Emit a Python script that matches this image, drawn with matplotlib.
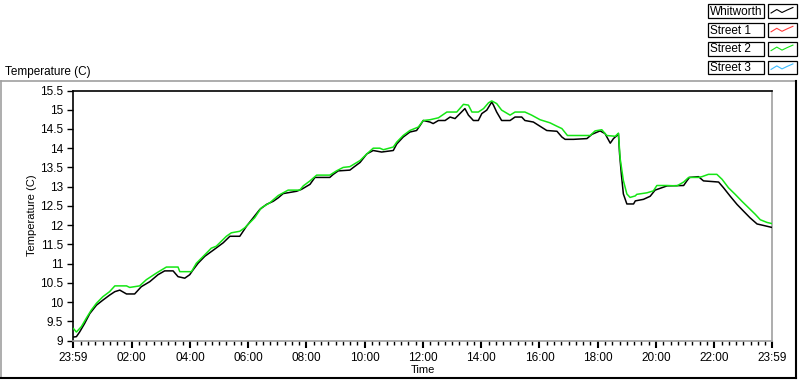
import matplotlib
matplotlib.use("Agg")
import matplotlib.pyplot as plt
from matplotlib.lines import Line2D
from matplotlib.patches import Rectangle
from matplotlib.ticker import FixedLocator, FuncFormatter

plt.rcParams['font.family'] = ['Liberation Sans', 'DejaVu Sans']
plt.rcParams['font.size'] = 8

# ---- data (hours since midnight, temperature in C) ----
whitworth_h = [0.00, 0.10, 0.21, 0.38, 0.56, 0.79, 1.01, 1.24, 1.42, 1.59, 1.82, 2.10, 2.33, 2.62, 2.90,
               3.13, 3.42, 3.59, 3.82, 3.99, 4.11, 4.28, 4.51, 4.82, 5.14, 5.37, 5.71, 5.94, 6.17, 6.40,
               6.63, 6.86, 7.03, 7.20, 7.66, 7.83, 8.12, 8.29, 8.80, 8.92, 9.09, 9.49, 9.61, 9.84, 10.07,
               10.29, 10.58, 10.98, 11.10, 11.32, 11.55, 11.78, 11.90, 12.01, 12.24, 12.35, 12.53, 12.76,
               12.93, 13.10, 13.27, 13.44, 13.56, 13.73, 13.90, 14.02, 14.19, 14.36, 14.42, 14.53, 14.70,
               14.99, 15.16, 15.39, 15.50, 15.79, 16.02, 16.25, 16.60, 16.77, 16.88, 17.17, 17.63, 17.80,
               18.08, 18.25, 18.43, 18.54, 18.66, 18.71, 18.75, 18.81, 18.88, 19.00, 19.23, 19.29, 19.57,
               19.80, 19.97, 20.38, 20.95, 21.06, 21.15, 21.46, 21.63, 22.15, 22.32, 22.55, 22.78, 23.01,
               23.23, 23.47, 23.70, 23.98]
whitworth_t = [9.09, 9.10, 9.22, 9.44, 9.70, 9.92, 10.05, 10.18, 10.27, 10.31, 10.21, 10.21, 10.40, 10.53, 10.71,
               10.81, 10.81, 10.66, 10.62, 10.71, 10.84, 11.01, 11.19, 11.36, 11.54, 11.71, 11.71, 11.97, 12.19, 12.41,
               12.54, 12.62, 12.71, 12.82, 12.88, 12.93, 13.06, 13.24, 13.24, 13.32, 13.41, 13.43, 13.50, 13.63, 13.85,
               13.94, 13.90, 13.94, 14.11, 14.29, 14.42, 14.46, 14.59, 14.72, 14.68, 14.64, 14.72, 14.72,
               14.81, 14.77, 14.90, 15.03, 14.86, 14.72, 14.72, 14.90, 14.99, 15.20, 15.12, 14.94, 14.72,
               14.72, 14.81, 14.81, 14.72, 14.68, 14.57, 14.46, 14.44, 14.29, 14.23, 14.23, 14.25, 14.36,
               14.45, 14.38, 14.13, 14.25, 14.33, 14.38, 13.85, 13.33, 12.81, 12.55, 12.55, 12.63, 12.67,
               12.75, 12.91, 13.02, 13.03, 13.15, 13.24, 13.26, 13.15, 13.12, 12.97, 12.75, 12.54, 12.36,
               12.19, 12.03, 11.99, 11.94]

street2_h = [0.00, 0.10, 0.27, 0.44, 0.61, 0.79, 1.01, 1.24, 1.42, 1.82, 1.93, 2.27, 2.50, 2.84, 3.19,
             3.59, 3.65, 4.05, 4.22, 4.51, 4.73, 4.90, 5.25, 5.42, 5.71, 5.88, 6.22, 6.45, 6.74, 7.03,
             7.37, 7.77, 7.89, 8.12, 8.35, 8.80, 9.03, 9.26, 9.49, 9.84, 10.07, 10.29, 10.52, 10.64,
             10.98, 11.10, 11.32, 11.55, 11.84, 12.01, 12.24, 12.53, 12.82, 13.16, 13.39, 13.56, 13.68,
             13.90, 14.08, 14.25, 14.36, 14.53, 14.70, 14.99, 15.16, 15.50, 15.73, 16.02, 16.36, 16.60,
             16.77, 16.96, 17.74, 17.91, 18.14, 18.31, 18.60, 18.71, 18.77, 18.88, 19.00, 19.11, 19.29,
             19.34, 19.69, 19.91, 20.03, 20.37, 20.72, 20.95, 21.12, 21.46, 21.58, 21.80, 22.09, 22.27,
             22.49, 22.72, 22.95, 23.18, 23.41, 23.58, 23.81, 23.98]
street2_t = [9.31, 9.22, 9.36, 9.58, 9.79, 9.97, 10.14, 10.27, 10.42, 10.42, 10.38, 10.42, 10.58, 10.75, 10.91,
             10.91, 10.79, 10.79, 11.01, 11.23, 11.40, 11.45, 11.71, 11.80, 11.84, 11.93, 12.19, 12.45, 12.58, 12.77,
             12.91, 12.91, 13.02, 13.15, 13.30, 13.30, 13.41, 13.50, 13.52, 13.68, 13.85, 14.00, 14.00, 13.96,
             14.03, 14.16, 14.33, 14.46, 14.55, 14.72, 14.74, 14.79, 14.94, 14.94, 15.14, 15.12, 14.94,
             14.94, 15.03, 15.18, 15.23, 15.16, 14.99, 14.86, 14.94, 14.94, 14.86, 14.74, 14.66, 14.57,
             14.51, 14.33, 14.33, 14.45, 14.48, 14.33, 14.31, 14.39, 13.73, 13.16, 12.81, 12.72, 12.76,
             12.80, 12.84, 12.89, 13.03, 13.03, 13.02, 13.12, 13.24, 13.24, 13.26, 13.32, 13.32, 13.19,
             12.97, 12.80, 12.62, 12.45, 12.28, 12.14, 12.07, 12.04]

series_names = ["Whitworth", "Street 1", "Street 2", "Street 3"]
series_colors = ["#000000", "#ff3c3c", "#14e614", "#3cbcff"]

y_ticks = [9, 9.5, 10, 10.5, 11, 11.5, 12, 12.5, 13, 13.5, 14, 14.5, 15, 15.5]
x_tick_pos = [-1 / 60, 2, 4, 6, 8, 10, 12, 14, 16, 18, 20, 22, 24 - 1 / 60]
x_tick_labels = ["23:59", "02:00", "04:00", "06:00", "08:00", "10:00", "12:00",
                 "14:00", "16:00", "18:00", "20:00", "22:00", "23:59"]

W, H = 800, 380
fig = plt.figure(figsize=(W / 100, H / 100), dpi=100)
fig.patch.set_facecolor('white')


def fx(px):
    return px / W


def fy(py):
    return 1 - py / H


ax = fig.add_axes([fx(73), fy(340.5), fx(772) - fx(73), fy(90.5) - fy(340.5)])
ax.set_facecolor('white')

ax.plot(whitworth_h, whitworth_t, color=series_colors[0], lw=1.1, zorder=3)
ax.plot(street2_h, street2_t, color=series_colors[2], lw=1.1, zorder=4)

ax.set_xlim(x_tick_pos[0], x_tick_pos[-1])
ax.set_ylim(9, 15.5)

ax.yaxis.set_major_locator(FixedLocator(y_ticks))
ax.yaxis.set_major_formatter(FuncFormatter(lambda v, p: f"{v:g}"))
ax.xaxis.set_major_locator(FixedLocator(x_tick_pos))
ax.set_xticklabels(x_tick_labels)
ax.xaxis.set_minor_locator(FixedLocator([i * 0.25 for i in range(1, 96) if (i * 0.25) % 2 != 0]))

ax.tick_params(axis='y', which='major', direction='out', length=4, width=1, pad=3, labelsize=8.5)
ax.tick_params(axis='x', which='major', direction='out', length=5, width=1.5, pad=3, labelsize=8.5)
ax.tick_params(axis='x', which='minor', direction='out', length=3, width=1)

for side, col in [('left', 'black'), ('top', 'black'), ('bottom', '#a0a0a0'), ('right', '#a0a0a0')]:
    ax.spines[side].set_color(col)
    ax.spines[side].set_linewidth(1.2)

ax.set_xlabel("Time", labelpad=1, fontsize=8)
ax.set_ylabel("Temperature (C)", labelpad=2, fontsize=8)

# top-left title
fig.text(fx(5), fy(72), "Temperature (C)", ha='left', va='center', fontsize=8.5)

# outer panel frame
fig.add_artist(Line2D([fx(1), fx(796)], [fy(80.5), fy(80.5)], color='#a0a0a0', lw=1.2))
fig.add_artist(Line2D([fx(1), fx(1)], [fy(80.5), fy(378)], color='#a0a0a0', lw=1.2))
fig.add_artist(Line2D([fx(1), fx(796)], [fy(378), fy(378)], color='black', lw=1.5))
fig.add_artist(Line2D([fx(796), fx(796)], [fy(80.5), fy(378)], color='black', lw=1.5))

# legend (manually drawn boxes with zigzag samples)
zig_x = [0.08, 0.3, 0.5, 0.7, 0.92]
zig_y = [0.35, 0.7, 0.4, 0.65, 0.9]
for i, (name, col) in enumerate(zip(series_names, series_colors)):
    top = 4.5 + i * 18.8
    bot = top + 13.5
    fig.add_artist(Rectangle((fx(707.5), fy(bot)), fx(763.5) - fx(707.5), fy(top) - fy(bot),
                             fill=True, facecolor='white', edgecolor='black', lw=0.9))
    fig.text(fx(710), fy((top + bot) / 2 + 0.5), name, ha='left', va='center', fontsize=8.5)
    fig.add_artist(Rectangle((fx(767.5), fy(bot)), fx(796.5) - fx(767.5), fy(top) - fy(bot),
                             fill=True, facecolor='white', edgecolor='black', lw=0.9))
    xs = [fx(769 + z * 26) for z in zig_x]
    ys = [fy(bot - 1.5 - z * 10) for z in zig_y]
    fig.add_artist(Line2D(xs, ys, color=col, lw=0.8))

fig.savefig("out.png", dpi=100, facecolor='white')
